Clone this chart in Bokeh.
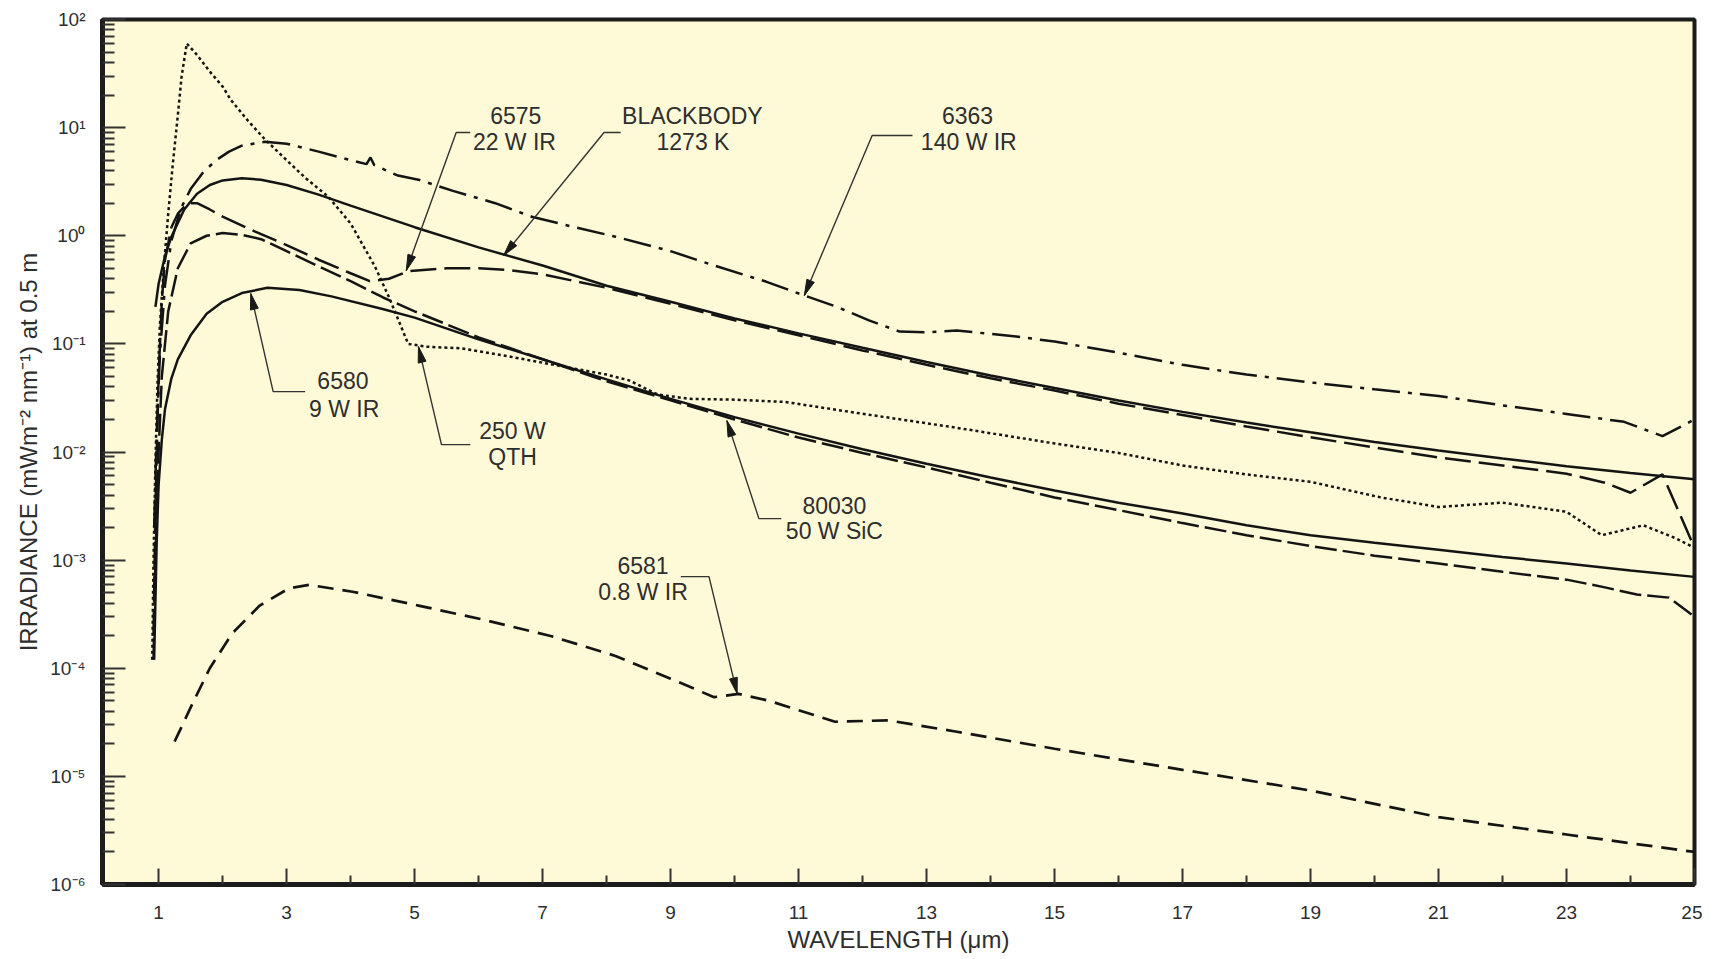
import numpy as np
from bokeh.plotting import figure
from bokeh.models import FixedTicker, CustomJSTickFormatter, ColumnDataSource, Range1d
from bokeh.core.properties import value
from bokeh.embed import file_html
from bokeh.resources import INLINE

# ---------------- data ----------------
x_major = [1, 3, 5, 7, 9, 11, 13, 15, 17, 19, 21, 23, 25]
x_minor = [2, 4, 6, 8, 10, 12, 14, 16, 18, 20, 22, 24]
y_major = [1e-6, 1e-5, 1e-4, 1e-3, 1e-2, 1e-1, 1e0, 1e1, 1e2]
y_minor = [k * 10.0 ** e for e in range(-6, 2) for k in range(2, 10)]

# BLACKBODY 1273 K (solid)
bb_x = [0.95, 1.0, 1.1, 1.2, 1.4, 1.6, 1.8, 2.0, 2.3, 2.6, 3.0, 3.5, 4.0, 5, 6, 7, 8, 9, 10, 11,
        12, 13, 14, 15, 16, 17, 18, 19, 20, 21, 22, 23, 24, 25]
bb_y = [0.22, 0.36, 0.65, 0.98, 1.75, 2.45, 2.95, 3.25, 3.4, 3.3, 2.95, 2.4, 1.9, 1.2, 0.78, 0.53,
        0.345, 0.245, 0.172, 0.125, 0.092, 0.068, 0.051, 0.039, 0.030, 0.0235, 0.0187, 0.0152,
        0.0124, 0.0103, 0.0087, 0.0074, 0.0064, 0.0056]

# 6575 22 W IR (long dash)
m_x = [0.92, 0.95, 1.0, 1.05, 1.1, 1.2, 1.3, 1.45, 1.6, 1.8, 2.0, 2.5, 3.0, 3.5, 4.0, 4.3, 4.6,
       4.9, 5.5, 6.0, 6.5, 7.0, 8, 9, 10, 11, 12, 13, 14, 15, 16, 17, 18, 19, 20, 21, 22, 23,
       23.6, 24.0, 24.5, 25.0]
m_y = [2e-4, 3e-3, 0.05, 0.25, 0.6, 1.2, 1.6, 2.0, 2.0, 1.75, 1.5, 1.1, 0.82, 0.6, 0.45, 0.38,
       0.40, 0.47, 0.50, 0.50, 0.48, 0.44, 0.33, 0.235, 0.165, 0.12, 0.087, 0.064, 0.048, 0.037,
       0.028, 0.022, 0.0172, 0.0137, 0.011, 0.0089, 0.0075, 0.0063, 0.0052, 0.0042, 0.0062, 0.0013]

# 6363 140 W IR (dash-dot)
d_x = [0.93, 0.97, 1.02, 1.1, 1.2, 1.35, 1.5, 1.7, 1.9, 2.1, 2.3, 2.66, 3.0, 3.5, 4.0, 4.25,
       4.31, 4.37, 4.74, 5.06, 5.6, 6.26, 6.83, 7.5, 8.14, 9.0, 9.6, 10.23, 10.49, 11.09, 11.6,
       12.1, 12.58, 13.0, 13.47, 14.4, 15.0, 16.0, 17.0, 18.0, 19.0, 20.0, 21.0, 22.0, 23.0,
       23.9, 24.5, 25.0]
d_y = [0.002, 0.015, 0.08, 0.35, 0.9, 1.8, 2.7, 3.9, 5.0, 6.0, 6.8, 7.4, 7.1, 6.0, 5.0, 4.6,
       5.3, 4.5, 3.6, 3.3, 2.6, 2.0, 1.5, 1.2, 0.98, 0.72, 0.55, 0.42, 0.377, 0.28, 0.22, 0.165,
       0.13, 0.128, 0.133, 0.117, 0.105, 0.083, 0.064, 0.052, 0.044, 0.038, 0.033, 0.027,
       0.0225, 0.019, 0.014, 0.020]

# 250 W QTH (dotted)
q_x = [0.90, 0.92, 0.95, 0.98, 1.02, 1.08, 1.15, 1.22, 1.30, 1.36, 1.44, 1.6, 1.8, 2.0, 2.13,
       2.4, 2.66, 3.0, 3.3, 3.65, 4.0, 4.38, 4.6, 4.9, 5.2, 5.73, 6.5, 7.3, 8.0, 8.35, 8.8, 9.3,
       10.0, 10.8, 11.8, 13.4, 15, 16, 17, 18, 19, 20.1, 21, 22, 23, 23.55, 24.2, 24.7, 25]
q_y = [1.2e-4, 1e-3, 0.008, 0.04, 0.15, 0.5, 1.6, 4.5, 13, 30, 60, 47, 33, 24, 18, 11.5, 7.8,
       5.0, 3.4, 2.3, 1.3, 0.52, 0.27, 0.1, 0.094, 0.091, 0.076, 0.062, 0.052, 0.046, 0.034,
       0.031, 0.0305, 0.029, 0.0235, 0.017, 0.012, 0.0098, 0.0075, 0.0062, 0.0053, 0.0038,
       0.0031, 0.0034, 0.0028, 0.0017, 0.0021, 0.0016, 0.0013]

# 80030 50 W SiC (long dash)
s_x = [0.92, 0.95, 1.0, 1.05, 1.15, 1.3, 1.5, 1.75, 2.0, 2.3, 2.6, 3.0, 3.5, 4.0, 4.5, 5.0, 6.0,
       7.0, 8.0, 9.0, 10, 11, 12, 13, 14, 15, 16, 17, 18, 19, 20, 21, 22, 23, 23.6, 24.1, 24.6, 25]
s_y = [1.2e-4, 1e-3, 0.01, 0.05, 0.2, 0.5, 0.85, 1.0, 1.06, 1.02, 0.93, 0.72, 0.52, 0.38, 0.27,
       0.2, 0.115, 0.072, 0.045, 0.030, 0.020, 0.0136, 0.0098, 0.0072, 0.0052, 0.0038, 0.0029,
       0.0022, 0.0017, 0.00135, 0.0011, 0.00093, 0.00078, 0.00066, 0.00056, 0.00048, 0.00045,
       0.00030]

# 6580 9 W IR (solid)
n_x = [0.93, 0.97, 1.0, 1.05, 1.1, 1.2, 1.3, 1.5, 1.75, 2.0, 2.3, 2.7, 3.2, 3.7, 4.5, 5.0, 6.0,
       7.0, 8.0, 9.0, 10, 11, 12, 13, 14, 15, 16, 17, 18, 19, 20, 21, 22, 23, 24, 25]
n_y = [1.2e-4, 1.5e-3, 0.005, 0.013, 0.025, 0.048, 0.072, 0.12, 0.19, 0.245, 0.295, 0.33, 0.315,
       0.275, 0.21, 0.175, 0.11, 0.072, 0.047, 0.031, 0.021, 0.0148, 0.0106, 0.0078, 0.0058,
       0.0044, 0.0034, 0.0027, 0.0021, 0.0017, 0.00145, 0.00125, 0.00107, 0.00093, 0.0008, 0.0007]

# 6581 0.8 W IR (dashed)
w_x = [1.25, 1.55, 1.8, 2.15, 2.58, 3.04, 3.35, 4.03, 5.06, 6.09, 7.11, 8.14, 9.0, 9.68, 10.06,
       10.54, 11.57, 12.4, 13.45, 15, 17, 19, 21, 23, 25]
w_y = [2.1e-5, 5e-5, 1e-4, 2.1e-4, 3.8e-4, 5.5e-4, 5.9e-4, 5.1e-4, 3.8e-4, 2.8e-4, 2.0e-4,
       1.3e-4, 8e-5, 5.4e-5, 5.8e-5, 5.0e-5, 3.2e-5, 3.3e-5, 2.6e-5, 1.8e-5, 1.15e-5, 7.4e-6,
       4.2e-6, 2.9e-6, 2.0e-6]

# annotation texts (data positions)
lab_text = ["6575", "22 W IR", "BLACKBODY", "1273 K", "6363", "140 W IR", "6580", "9 W IR",
            "250 W", "QTH", "80030", "50 W SiC", "6581", "0.8 W IR"]
lab_x = [6.58, 6.56, 9.34, 9.35, 13.64, 13.66, 3.88, 3.90, 6.53, 6.53, 11.56, 11.56, 8.57, 8.57]
lab_y = [12.94, 7.44, 12.94, 7.44, 12.94, 7.44, 0.0458, 0.0252, 0.0158, 0.00907, 0.00319,
         0.00184, 8.89e-4, 5.12e-4]

# leader lines: (x list, y list), last point is the arrow tip
lead_xs = [[5.87, 5.65, 4.87], [8.22, 7.96, 6.39], [12.78, 12.15, 11.09], [3.29, 2.79, 2.44],
           [5.87, 5.42, 5.06], [10.73, 10.38, 9.88], [9.16, 9.60, 10.04]]
lead_ys = [[9.01, 9.01, 0.476], [9.01, 9.01, 0.656], [8.45, 8.45, 0.28], [0.0362, 0.0362, 0.292],
           [0.0117, 0.0117, 0.0944], [0.00242, 0.00242, 0.0195], [7.03e-4, 7.03e-4, 5.82e-5]]

# ---------------- layout ----------------
X0, X1 = 0.123, 25.0
Y0, Y1 = 1e-6, 1e2
FW, FH = 1592, 865

p = figure(frame_width=FW, frame_height=FH, x_range=Range1d(X0, X1), y_range=Range1d(Y0, Y1),
           y_axis_type="log", output_backend="svg", toolbar_location=None,
           min_border_left=102, min_border_right=8, min_border_top=19, min_border_bottom=70)
p.background_fill_color = "#FEF9D6"
p.border_fill_color = "white"
p.outline_line_color = "#1c1c1c"
p.outline_line_width = 4
p.grid.visible = False

FONT = "Liberation Sans"
TXT = "#2e2e2e"
for ax in (p.xaxis[0], p.yaxis[0]):
    ax.axis_line_width = 5
    ax.axis_line_color = "#1c1c1c"
    ax.major_tick_line_color = "#333333"
    ax.major_tick_line_width = 2
    ax.minor_tick_line_color = "#333333"
    ax.minor_tick_line_width = 2
    ax.major_tick_out = 0
    ax.minor_tick_out = 0
    ax.major_label_text_font = FONT
    ax.major_label_text_font_size = "19px"
    ax.major_label_text_color = TXT
    ax.axis_label_text_font = FONT
    ax.axis_label_text_font_size = "24px"
    ax.axis_label_text_font_style = "normal"
    ax.axis_label_text_color = TXT

p.xaxis.ticker = FixedTicker(ticks=x_major, minor_ticks=x_minor)
p.xaxis.major_tick_in = 16
p.xaxis.minor_tick_in = 9
p.xaxis.major_label_standoff = 21
p.xaxis.axis_label_standoff = 4
p.xaxis.axis_label = "WAVELENGTH (μm)"

p.yaxis.ticker = FixedTicker(ticks=y_major, minor_ticks=y_minor)
p.yaxis.major_tick_in = 23
p.yaxis.minor_tick_in = 12
p.yaxis.major_label_standoff = 17
p.yaxis.axis_label_standoff = 5
p.yaxis.axis_label = "IRRADIANCE (mWm⁻² nm⁻¹) at 0.5 m"
p.yaxis.formatter = CustomJSTickFormatter(code="""
const sup = {"-":"\u207b","0":"\u2070","1":"\u00b9","2":"\u00b2","3":"\u00b3","4":"\u2074",
             "5":"\u2075","6":"\u2076","7":"\u2077","8":"\u2078","9":"\u2079"};
const e = Math.round(Math.log10(tick));
return "10" + String(e).split("").map(c => sup[c]).join("");
""")

LC = "#141414"
LW = 2.5
p.line(bb_x, bb_y, line_color=LC, line_width=LW)
p.line(n_x, n_y, line_color=LC, line_width=LW)
p.line(m_x, m_y, line_color=LC, line_width=LW, line_dash="26 8")
p.line(s_x, s_y, line_color=LC, line_width=LW, line_dash="22 6")
p.line(d_x, d_y, line_color=LC, line_width=LW, line_dash="28 8 4 8")
p.line(q_x, q_y, line_color=LC, line_width=LW, line_dash="3 3")
p.line(w_x, w_y, line_color=LC, line_width=2.7, line_dash="16 9")

# leaders
p.multi_line(lead_xs, lead_ys, line_color="#333333", line_width=1.4)

# arrowheads: narrow triangles built in screen space
lx0, lx1 = np.log10(Y0), np.log10(Y1)
def to_px(x, y):
    return (x - X0) / (X1 - X0) * FW, (np.log10(y) - lx0) / (lx1 - lx0) * FH
def to_data(px, py):
    return X0 + px / FW * (X1 - X0), 10 ** (lx0 + py / FH * (lx1 - lx0))

hx, hy = [], []
for xs, ys in zip(lead_xs, lead_ys):
    tx, ty = to_px(xs[-1], ys[-1])
    ox, oy = to_px(xs[-2], ys[-2])
    d = np.array([tx - ox, ty - oy]); d = d / np.hypot(*d)
    nrm = np.array([-d[1], d[0]])
    b = np.array([tx, ty]) - 16 * d
    pts = [np.array([tx, ty]), b + 4 * nrm, b - 4 * nrm]
    dd = [to_data(*pt) for pt in pts]
    hx.append([q[0] for q in dd]); hy.append([q[1] for q in dd])
p.patches(hx, hy, fill_color="#1a1a1a", line_color="#1a1a1a", line_width=1)

src = ColumnDataSource(dict(x=lab_x, y=lab_y, t=lab_text))
p.text(x="x", y="y", text="t", source=src, text_font=value(FONT), text_font_size="23px",
       text_align="center", text_baseline="middle", text_color=TXT)

open("out.html", "w").write(file_html(p, INLINE))
